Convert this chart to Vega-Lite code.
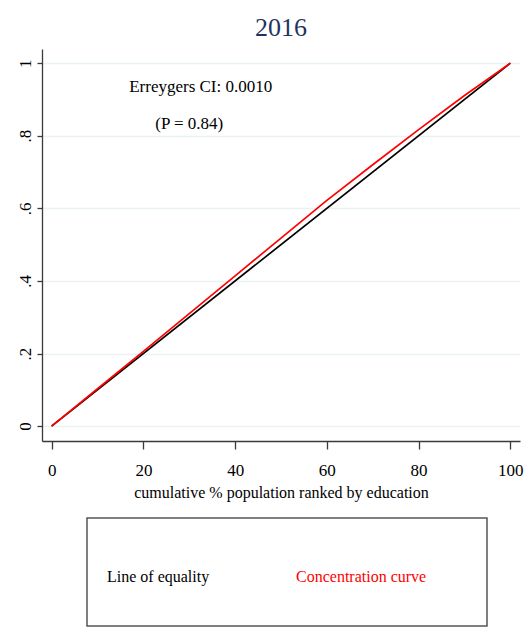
{
  "$schema": "https://vega.github.io/schema/vega-lite/v6.json",
  "padding": {"left": 15, "top": 15, "right": 0, "bottom": 0},
  "background": "white",
  "config": {
    "font": "Liberation Serif",
    "view": {"stroke": null},
    "axis": {"labelFont": "Liberation Serif", "titleFont": "Liberation Serif", "labelColor": "#000000", "titleColor": "#000000", "domainColor": "#3a3a3a", "tickColor": "#3a3a3a", "domainWidth": 1.3, "tickWidth": 1.3}
  },
  "spacing": 17,
  "vconcat": [
    {
      "width": 478,
      "height": 392,
      "title": {"text": "2016", "fontSize": 26, "font": "Liberation Serif", "fontWeight": "normal", "color": "#1f3461", "frame": "group", "anchor": "middle", "offset": 8},
      "layer": [
        {
          "data": {"values": [
            {"x": 0, "y": 0, "series": "Line of equality"},
            {"x": 100, "y": 1, "series": "Line of equality"}
          ]},
          "mark": {"type": "line", "strokeWidth": 1.7},
          "encoding": {
            "x": {"field": "x", "type": "quantitative", "scale": {"domain": [-2.1, 102.1], "nice": false, "zero": false},
              "axis": {"values": [0, 20, 40, 60, 80, 100], "grid": false, "title": "cumulative % population ranked by education", "titleFontSize": 16, "titleFontWeight": "normal", "titlePadding": 6, "labelFontSize": 17, "tickSize": 8, "labelPadding": 13}},
            "y": {"field": "y", "type": "quantitative", "scale": {"domain": [-0.041, 1.039], "nice": false, "zero": false},
              "axis": {"values": [0, 0.2, 0.4, 0.6, 0.8, 1], "labelExpr": "datum.value == 0 ? '0' : datum.value == 1 ? '1' : replace(format(datum.value, '.1f'), '0.', '.')", "grid": true, "gridColor": "#eaf2f3", "gridWidth": 1.5, "title": null, "labelFontSize": 17, "labelAngle": -90, "labelAlign": "center", "labelBaseline": "bottom", "tickSize": 5, "labelPadding": 3}},
            "color": {"field": "series", "type": "nominal", "scale": {"domain": ["Line of equality", "Concentration curve"], "range": ["#000000", "#ff0000"]}, "legend": null}
          }
        },
        {
          "data": {"values": [
            {"x": 0, "y": 0, "series": "Concentration curve"},
            {"x": 10, "y": 0.103, "series": "Concentration curve"},
            {"x": 20, "y": 0.206, "series": "Concentration curve"},
            {"x": 30, "y": 0.31, "series": "Concentration curve"},
            {"x": 40, "y": 0.414, "series": "Concentration curve"},
            {"x": 50, "y": 0.518, "series": "Concentration curve"},
            {"x": 60, "y": 0.622, "series": "Concentration curve"},
            {"x": 70, "y": 0.72, "series": "Concentration curve"},
            {"x": 80, "y": 0.817, "series": "Concentration curve"},
            {"x": 90, "y": 0.911, "series": "Concentration curve"},
            {"x": 100, "y": 1, "series": "Concentration curve"}
          ]},
          "mark": {"type": "line", "strokeWidth": 1.7},
          "encoding": {
            "x": {"field": "x", "type": "quantitative"},
            "y": {"field": "y", "type": "quantitative"},
            "color": {"field": "series", "type": "nominal", "legend": null}
          }
        },
        {
          "data": {"values": [
            {"x": 32.5, "y": 0.934, "label": "Erreygers CI: 0.0010"},
            {"x": 30, "y": 0.832, "label": "(P = 0.84)"}
          ]},
          "mark": {"type": "text", "fontSize": 17, "font": "Liberation Serif", "color": "#000000", "align": "center", "baseline": "middle"},
          "encoding": {
            "x": {"field": "x", "type": "quantitative"},
            "y": {"field": "y", "type": "quantitative"},
            "text": {"field": "label"}
          }
        }
      ]
    },
    {
      "spacing": 20,
      "hconcat": [
        {
          "width": 24,
          "height": 108,
          "data": {"values": []},
          "mark": {"type": "point", "opacity": 0},
          "encoding": {}
        },
        {
          "width": 400,
          "height": 108,
          "view": {"stroke": "#555555", "strokeWidth": 1.5},
          "data": {"values": [
            {"label": "Line of equality"},
            {"label": "Concentration curve"}
          ]},
          "mark": {"type": "text", "fontSize": 16, "font": "Liberation Serif", "align": "left", "baseline": "middle", "dy": 5},
          "encoding": {
            "x": {"field": "label", "type": "nominal", "scale": {"type": "point", "padding": 0, "domain": ["Line of equality", "Concentration curve"], "range": [20, 209]}, "axis": null},
            "text": {"field": "label"},
            "color": {"field": "label", "type": "nominal", "scale": {"domain": ["Line of equality", "Concentration curve"], "range": ["#000000", "#ff0000"]}, "legend": null}
          }
        }
      ]
    }
  ],
  "resolve": {"scale": {"color": "independent"}}
}
